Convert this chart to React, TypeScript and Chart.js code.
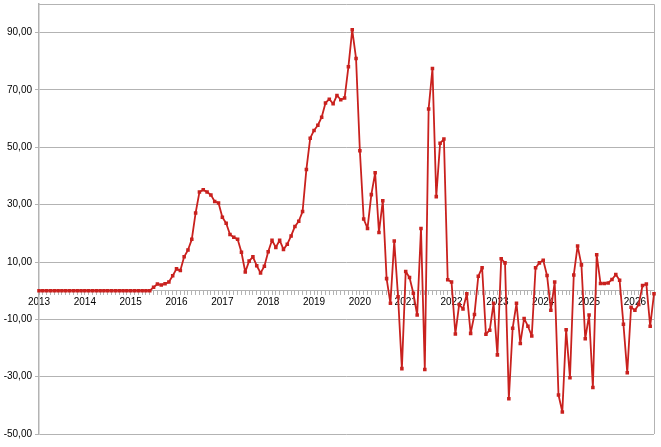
import React, { useEffect, useRef } from "react";
import { Chart, registerables } from "chart.js";

Chart.register(...registerables);

const years: string[] = ["2013", "2014", "2015", "2016", "2017", "2018", "2019", "2020", "2021", "2022", "2023", "2024", "2025", "2026"];
const monthsInLastYear = 6;

const values: number[] = [
  // 2013
  0, 0, 0, 0, 0, 0, 0, 0, 0, 0, 0, 0,
  // 2014
  0, 0, 0, 0, 0, 0, 0, 0, 0, 0, 0, 0,
  // 2015
  0, 0, 0, 0, 0, 0, 1.2, 2.3, 2.0, 2.4, 3.0, 5.2,
  // 2016
  7.6, 7.0, 11.8, 14.2, 17.9, 27.1, 34.4, 35.2, 34.4, 33.4, 31.1, 30.6,
  // 2017
  25.6, 23.5, 19.6, 18.6, 17.9, 13.4, 6.5, 10.3, 11.8, 8.7, 6.2, 8.5,
  // 2018
  13.6, 17.6, 15.1, 17.6, 14.4, 16.2, 19.1, 22.4, 24.2, 27.6, 42.3, 53.2,
  // 2019
  55.9, 57.7, 60.5, 65.5, 66.8, 65.2, 68.1, 66.6, 67.2, 78.1, 91.0, 81.0,
  // 2020
  48.8, 25.0, 21.7, 33.5, 41.1, 20.3, 31.4, 4.2, -4.4, 17.3, -2.1, -27.2,
  // 2021
  6.7, 4.6, -0.9, -8.5, 21.7, -27.5, 63.4, 77.5, 32.8, 51.4, 52.9, 3.8,
  // 2022
  3.0, -15.1, -4.8, -6.4, -1.1, -14.9, -8.3, 5.0, 8.0, -15.2, -13.8, -4.4,
  // 2023
  -22.4, 11.1, 9.7, -37.7, -13.1, -4.4, -18.4, -9.7, -12.4, -15.8, 8.0, 9.7,
  // 2024
  10.6, 5.3, -6.8, 3.0, -36.4, -42.3, -13.6, -30.4, 5.5, 15.6, 9.0, -16.8,
  // 2025
  -8.5, -33.8, 12.5, 2.5, 2.5, 2.7, 3.9, 5.6, 3.6, -11.7, -28.6, -5.8,
  // 2026
  -6.8, -4.8, 1.8, 2.3, -12.4, -1.1,
];

const yTicks: number[] = [-50, -30, -10, 10, 30, 50, 70, 90];
const yMin = -50;
const yMax = 100;

const categories: string[] = [];
years.forEach((y, i) => {
  const n = i === years.length - 1 ? monthsInLastYear : 12;
  for (let m = 1; m <= n; m++) categories.push(y + "-" + String(m).padStart(2, "0"));
});

const GRID = "#b3b3b3";
const RED = "#c9211e";

const framePlugin = {
  id: "frame",
  beforeDatasetsDraw(chart: any) {
    const { ctx, chartArea } = chart;
    ctx.save();
    ctx.strokeStyle = GRID;
    ctx.lineWidth = 1;
    ctx.beginPath();
    ctx.moveTo(chartArea.left, chartArea.top + 0.5);
    ctx.lineTo(chartArea.right + 0.5, chartArea.top + 0.5);
    ctx.lineTo(chartArea.right + 0.5, chartArea.bottom);
    ctx.stroke();
    ctx.restore();
  },
};

export default function App() {
  const ref = useRef<HTMLCanvasElement | null>(null);

  useEffect(() => {
    if (!ref.current) return;
    Chart.defaults.font.family = "'Liberation Sans', Arial, sans-serif";
    const chart = new Chart(ref.current, {
      type: "line",
      data: {
        labels: categories,
        datasets: [
          {
            data: values,
            borderColor: RED,
            backgroundColor: RED,
            borderWidth: 1.8,
            borderJoinStyle: "round",
            pointStyle: "rect",
            pointRadius: 2.5,
            pointHoverRadius: 2.5,
            pointBorderWidth: 0,
            tension: 0,
          },
        ],
      },
      options: {
        responsive: false,
        animation: false,
        layout: { padding: { top: 4, right: 7, bottom: 13, left: 0 } },
        plugins: { legend: { display: false }, tooltip: { enabled: false } },
        scales: {
          x: {
            type: "category",
            position: { y: 0 } as any,
            offset: false,
            grid: { drawOnChartArea: false, drawTicks: true, tickLength: 4, color: GRID },
            border: { color: GRID, width: 1 },
            ticks: {
              autoSkip: false,
              maxRotation: 0,
              minRotation: 0,
              padding: 2,
              color: "#000",
              font: { size: 10 },
              callback: (_v: any, i: number) => (i % 12 === 0 ? categories[i].slice(0, 4) : ""),
            },
          },
          y: {
            min: yMin,
            max: yMax,
            grid: { color: GRID, tickLength: 4, lineWidth: 1 },
            border: { color: GRID, width: 1.5 },
            afterBuildTicks: (scale: any) => {
              scale.ticks = yTicks.map((v) => ({ value: v }));
            },
            afterFit: (scale: any) => {
              scale.width = 39;
              scale.paddingTop = 0;
              scale.paddingBottom = 0;
            },
            ticks: {
              padding: 3,
              color: "#000",
              font: { size: 10 },
              callback: (v: any) => Number(v).toFixed(2).replace(".", ","),
            },
          },
        },
      },
      plugins: [framePlugin],
    });
    return () => chart.destroy();
  }, []);

  return (
    <div style={{ position: "absolute", left: 0, top: 0, width: 661, height: 447 }}>
      <canvas ref={ref} width={661} height={447} style={{ width: 661, height: 447, display: "block" }} />
    </div>
  );
}
